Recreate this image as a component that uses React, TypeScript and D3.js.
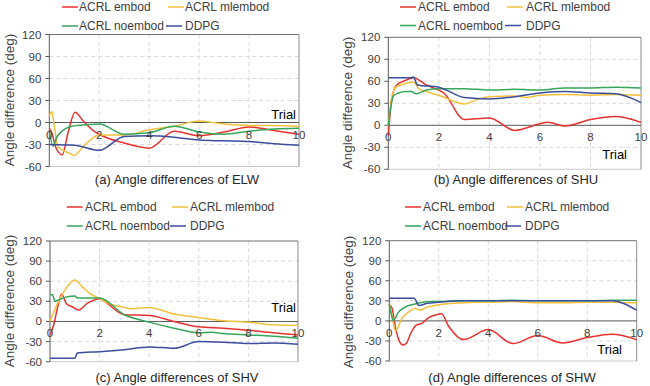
import React from "react";
import * as d3 from "d3";

type Pt = [number, number];

const seriesNames = ["ACRL embod", "ACRL mlembod", "ACRL noembod", "DDPG"];
const seriesColors = ["#e8322e", "#f3c03c", "#35a65a", "#3c4d9d"];
const panelTitles = [
  "(a) Angle differences of ELW",
  "(b) Angle differences of SHU",
  "(c) Angle differences of SHV",
  "(d) Angle differences of SHW",
];
const xTicks = [0, 2, 4, 6, 8, 10];
const yTicks = [-60, -30, 0, 30, 60, 90, 120];

// (a) ELW
const elwEmbod: Pt[] = [[0, -8], [0.1, -14], [0.25, -33], [0.52, -44], [0.75, -14], [1.03, 14], [1.36, 2], [1.76, -11], [2, -16], [3, -28], [4, -35], [5, -12], [6, -18], [7, -13], [8, -6], [9, -11], [10, -16]];
const elwMlembod: Pt[] = [[0, 8], [0.1, 15], [0.2, -5], [0.35, -33], [0.55, -38], [0.8, -42], [1, -45], [1.3, -35], [1.6, -25], [2, -17], [3, -17], [4, -10], [5, -5], [6, 2], [7, -2], [8, -4], [9, -4], [10, -5]];
const elwNoembod: Pt[] = [[0, -12], [0.15, -32], [0.3, -20], [0.5, -12], [0.9, -5], [1.5, -3], [2, -2], [3, -16], [4, -14], [5, -5], [6, -13], [7, -16], [8, -12], [9, -9], [10, -8]];
const elwDdpg: Pt[] = [[0, -30], [1, -31], [2, -38], [3, -19], [4, -18], [5, -20], [6, -24], [7, -25], [8, -26], [9, -29], [10, -31]];

// (b) SHU
const shuEmbod: Pt[] = [[0, -15], [0.13, 35], [0.33, 55], [0.6, 60], [1, 65], [1.5, 55], [2, 48], [2.2, 44], [3, 8], [4, 10], [5, -7], [6, 2], [6.3, 4], [7, -1], [8, 8], [9, 12], [10, 4]];
const shuMlembod: Pt[] = [[0, 0], [0.15, 40], [0.3, 52], [0.5, 55], [0.8, 58], [1, 59], [1.2, 50], [1.5, 46], [2, 41], [2.5, 34], [3, 29], [3.5, 35], [4, 39], [5, 40], [5.5, 38], [6, 41], [7, 42], [8, 41], [9, 42], [10, 41]];
const shuNoembod: Pt[] = [[0, 0], [0.1, 25], [0.2, 40], [0.4, 44], [0.7, 46], [0.9, 46], [1.1, 43], [1.5, 48], [2, 50], [3, 50], [4, 48], [5, 49], [6, 48], [7, 51], [8, 51], [9, 52], [10, 51]];
const shuDdpg: Pt[] = [[0, 65], [0.9, 65], [1, 66], [1.15, 55], [2, 52], [3, 38], [4, 36], [5, 39], [6, 44], [7, 46], [8, 44], [9, 43], [10, 31]];

// (c) SHV
const shvEmbod: Pt[] = [[0, -20], [0.15, -5], [0.3, 20], [0.47, 41], [0.67, 26], [0.9, 22], [1.14, 17], [1.5, 27], [2, 34], [2.2, 30], [3, 10], [4, 9], [5, 0], [6, -8], [7, -10], [8, -13], [9, -17], [10, -20]];
const shvMlembod: Pt[] = [[0, 0], [0.15, 14], [0.4, 34], [0.7, 52], [1, 62], [1.3, 52], [1.6, 42], [2, 34], [2.5, 25], [3, 21], [3.3, 19], [4, 21], [5, 11], [6, 6], [7, 1], [8, -1], [9, -5], [10, -6]];
const shvNoembod: Pt[] = [[0, 40], [0.1, 40], [0.2, 30], [0.4, 33], [0.7, 37], [1, 38], [1.1, 35], [2, 35], [3, 10], [4, -1], [5, -10], [6, -17], [6.5, -16], [7, -18], [8, -20], [9, -22], [10, -25]];
const shvDdpg: Pt[] = [[0, -55], [1, -55], [1.1, -47], [2, -45], [3, -42], [4, -38], [5, -40], [6, -30], [7, -31], [8, -33], [9, -32], [10, -34]];

// (d) SHW
const shwEmbod: Pt[] = [[0, 24], [0.1, 20], [0.25, -10], [0.4, -30], [0.55, -36], [0.7, -33], [0.85, -20], [1.1, -6], [1.3, -4], [1.6, 5], [2, 10], [2.1, 11], [2.4, -8], [3, -28], [4, -13], [5, -34], [6, -22], [7, -33], [8, -25], [9, -20], [10, -28]];
const shwMlembod: Pt[] = [[0, 25], [0.1, 10], [0.25, -15], [0.5, 3], [0.8, 14], [1.04, 19], [1.24, 16], [1.5, 20], [2, 24], [3, 27], [4, 28], [5, 29], [6, 27], [7, 27], [8, 28], [9, 28], [10, 27]];
const shwNoembod: Pt[] = [[0, 25], [0.08, 10], [0.16, 0], [0.35, 12], [0.6, 20], [1, 25], [1.65, 29], [2, 29], [3, 30], [4, 30], [5, 31], [6, 30], [7, 30], [8, 30], [9, 31], [10, 31]];
const shwDdpg: Pt[] = [[0, 34], [1, 34], [1.2, 23], [1.5, 26], [2, 28], [3, 30], [4, 30], [5, 30], [6, 30], [7, 30], [8, 30], [9, 30], [10, 16]];

const panelSeries: Pt[][][] = [
  [elwEmbod, elwMlembod, elwNoembod, elwDdpg],
  [shuEmbod, shuMlembod, shuNoembod, shuDdpg],
  [shvEmbod, shvMlembod, shvNoembod, shvDdpg],
  [shwEmbod, shwMlembod, shwNoembod, shwDdpg],
];

const layouts = [
  { left: 49.3, right: 299, top: 34.5, bottom: 166.5, rows: [7, 26], cols: [[62, 79], [168, 185], [62, 79], [166, 185]], yLabel: [9, 100], title: [177, 184], trial: [296, 119] },
  { left: 388.3, right: 641, top: 37.3, bottom: 169.3, rows: [7, 25.5], cols: [[400, 418], [507, 526], [400, 418], [505, 526]], yLabel: [347, 103], title: [516, 184], trial: [627, 159] },
  { left: 50, right: 298, top: 241, bottom: 361.7, rows: [207, 226], cols: [[66.7, 85], [172, 190], [66.7, 85], [170, 190]], yLabel: [9, 301], title: [177, 382], trial: [296, 311.7] },
  { left: 389.3, right: 636.7, top: 240.7, bottom: 361, rows: [207, 226], cols: [[405, 423], [507, 525], [405, 423], [505, 525]], yLabel: [348, 302], title: [512, 382], trial: [622, 354] },
];

const font = "'Liberation Sans', Arial, sans-serif";

function Panel({ idx }: { idx: number }) {
  const L = layouts[idx];
  const x = d3.scaleLinear().domain([0, 10]).range([L.left, L.right]);
  const y = d3.scaleLinear().domain([-60, 120]).range([L.bottom, L.top]);
  const line = d3
    .line<Pt>()
    .x((d) => x(d[0]))
    .y((d) => y(d[1]))
    .curve(d3.curveMonotoneX);
  const y0 = y(0);

  return (
    <g fontFamily={font}>
      {/* grid */}
      {yTicks
        .filter((t) => t !== 0 && t !== -60 && t !== 120)
        .map((t) => (
          <line key={"gy" + t} x1={L.left} x2={L.right} y1={y(t)} y2={y(t)} stroke="#d9d9d9" strokeDasharray="4,3" />
        ))}
      {xTicks
        .filter((t) => t !== 0 && t !== 10)
        .map((t) => (
          <line key={"gx" + t} x1={x(t)} x2={x(t)} y1={L.top} y2={L.bottom} stroke="#d9d9d9" strokeDasharray="4,3" />
        ))}
      {/* frame */}
      <line x1={L.left} x2={L.right} y1={L.bottom} y2={L.bottom} stroke="#c8c8c8" />
      <line x1={L.left} x2={L.right} y1={L.top} y2={L.top} stroke="#707070" />
      <line x1={L.right} x2={L.right} y1={L.top} y2={L.bottom} stroke="#8a8a8a" />
      <line x1={L.left} x2={L.left} y1={L.top} y2={L.bottom} stroke="#595959" />
      <line x1={L.left} x2={L.right} y1={y0} y2={y0} stroke="#595959" />
      {yTicks.map((t) => (
        <g key={"yt" + t}>
          <line x1={L.left - 4} x2={L.left} y1={y(t)} y2={y(t)} stroke="#595959" />
          <text x={L.left - 8} y={y(t)} dy="0.35em" textAnchor="end" fontSize={11.5} fill="#404040">
            {t}
          </text>
        </g>
      ))}
      {/* series */}
      {panelSeries[idx].map((s, i) => (
        <path key={"s" + i} d={line(s) || ""} fill="none" stroke={seriesColors[i]} strokeWidth={1.5} />
      ))}
      {xTicks.map((t) => (
        <text key={"xt" + t} x={x(t)} y={y0 + 16} textAnchor="middle" fontSize={11.5} fill="#404040">
          {t}
        </text>
      ))}
      <text x={L.trial[0]} y={L.trial[1]} textAnchor="end" fontSize={13} fill="#000">
        Trial
      </text>
      <text
        transform={`translate(${L.yLabel[0]},${L.yLabel[1]}) rotate(-90)`}
        dy="0.35em"
        textAnchor="middle"
        fontSize={13.5}
        fill="#404040"
      >
        Angle difference (deg)
      </text>
      <text x={L.title[0]} y={L.title[1]} textAnchor="middle" fontSize={13} fill="#262626">
        {panelTitles[idx]}
      </text>
      {/* legend */}
      {seriesNames.map((name, i) => {
        const row = L.rows[Math.floor(i / 2)];
        const [lx, tx] = L.cols[i];
        return (
          <g key={"lg" + i}>
            <line x1={lx} x2={lx + 16} y1={row} y2={row} stroke={seriesColors[i]} strokeWidth={1.5} />
            <text x={tx} y={row} dy="0.35em" fontSize={12} fill="#404040">
              {name}
            </text>
          </g>
        );
      })}
    </g>
  );
}

export default function App() {
  return (
    <svg
      width={650}
      height={386}
      style={{ position: "absolute", left: 0, top: 0, background: "#fff" }}
    >
      <rect width={650} height={386} fill="#fff" />
      {[0, 1, 2, 3].map((i) => (
        <Panel key={i} idx={i} />
      ))}
    </svg>
  );
}
